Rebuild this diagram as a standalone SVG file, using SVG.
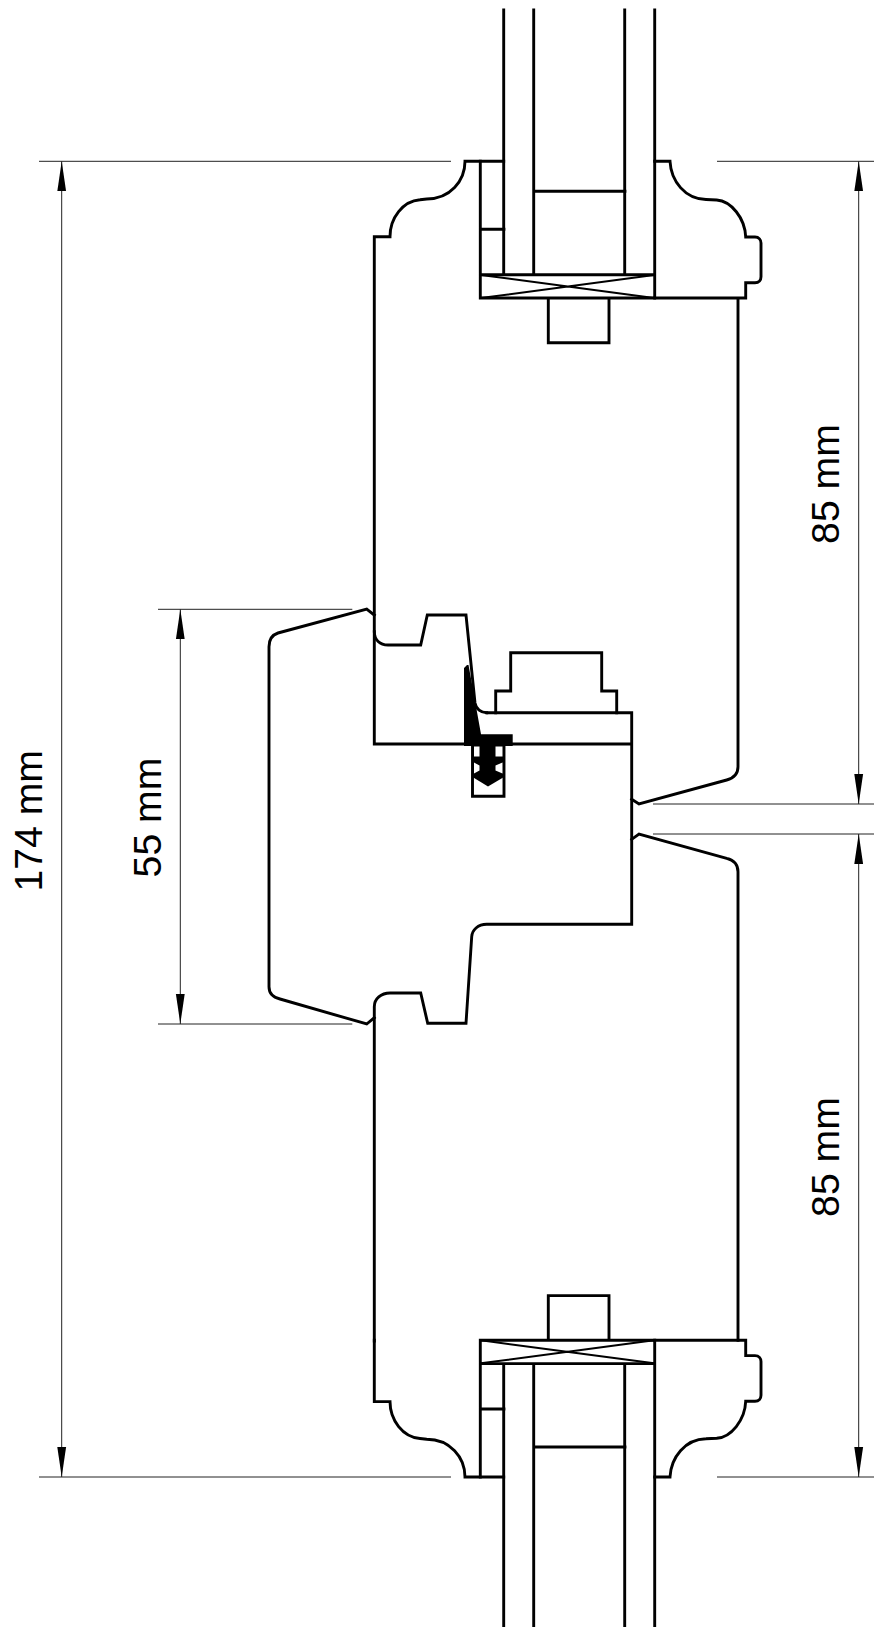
<svg xmlns="http://www.w3.org/2000/svg" width="874" height="1627" viewBox="0 0 874 1627">
<style>
.l{fill:none;stroke:#000;stroke-width:2.9;stroke-linejoin:miter;stroke-linecap:square}
.x{fill:none;stroke:#000;stroke-width:2}
.d{fill:none;stroke:#222;stroke-width:1}
.a{fill:none;stroke:#222;stroke-width:1;marker-start:url(#arr);marker-end:url(#arr)}
.t{font-family:"Liberation Sans",Arial,sans-serif;font-size:39.2px;fill:#000;text-anchor:middle}
</style>
<defs>
<marker id="arr" markerUnits="userSpaceOnUse" markerWidth="30" markerHeight="10" refX="30" refY="5" orient="auto-start-reverse"><path d="M0 .6L30 5L0 9.4Z" fill="#000"/></marker>
</defs>
<rect id="background" width="874" height="1627" fill="#fff"/>
<g id="top-sash-glazing">
<path class="l" d="M503.7 10V274.7M533.7 10V274.7M624.7 10V274.7M654.7 10V298M534 191.3H625M480.3 229.3H504M480.3 161.3V298M480.3 274.7H654.7M480.3 298H654.7M548.3 298V342.7H609V298"/>
<path class="x" d="M481 275L654 298M481 298L654 275"/>
</g>
<g id="top-sash-profile">
<path class="l" d="M503.7 161.3H465C465 181 450 199 426.7 199L420 199.8C403 201 390 218 390 236.7H374.3V631.7C374.3 640 380 645 388 645H420.7L427.3 615H466L475 703C476 709 481 712.7 486.7 712.7"/>
<path class="l" d="M654.7 161.3H670C671 181 685 199 706 199.5L716.7 200C731 201 745 218 745.7 237H755C759 237 761 240 761 243V276.7C761 280 759 282.7 755 282.7H745.7V298H654.7M738 298V766.7C738 773 734 778 726.7 780L639 804L631.7 799.3"/>
</g>
<g id="mullion">
<path class="l" d="M374.3 615L366.7 609L278 633C272 635 269 640 269 646.7V986.7C269 993 272 997 280 999L366.7 1024L374.3 1017.7"/>
<path class="l" d="M374.3 631.7V744H631.7M486.7 712.7H631.7V924.3H486.7C478 924.3 472 930 471.7 936.7L466 1023.3H427.7L420.7 993H390C381 993 374.3 999 374.3 1006.7V1341"/>
<path class="l" d="M495.7 712.7V691H510.7V652.7H601.7V691H616.7V712.7"/>
</g>
<g id="bottom-sash-lip">
<path class="l" d="M631.7 839.3L639 834L726.7 858.3C734 860 738 865 738 871.7V1340.3"/>
</g>
<g id="seal">
<path class="l" d="M472.5 745V796.3H504V745"/>
<path d="M464 668L467 665L468.5 665L475.5 703L477 712L481 734.3H512.7V746H464Z" fill="#000"/>
<path d="M472.5 777L488 786.5L504 777V745H472.5Z" fill="#000"/>
<path d="M474 746.5H479.5V756.5H474ZM495.5 746.5H502.5V756.5H495.5ZM474 762.5L479.5 765.5V770.5L474 773.5ZM502.5 762.5L495.5 765.5V770.5L502.5 773.5Z" fill="#fff"/>
</g>
<g id="bottom-sash-glazing" transform="translate(0 1638.3) scale(1 -1)">
<path class="l" d="M503.7 11V274.7M533.7 11V274.7M624.7 11V274.7M654.7 11V298M534 191.3H625M480.3 229.3H504M480.3 161.3V298M480.3 274.7H654.7M480.3 298H654.7M548.3 298V342.7H609V298"/>
<path class="x" d="M481 275L654 298M481 298L654 275"/>
</g>
<g id="bottom-sash-profile" transform="translate(0 1638.3) scale(1 -1)">
<path class="l" d="M503.7 161.3H465C465 181 450 199 426.7 199L420 199.8C403 201 390 218 390 236.7H374.3V298"/>
<path class="l" d="M654.7 161.3H670C671 181 685 199 706 199.5L716.7 200C731 201 745 218 745.7 237H755C759 237 761 240 761 243V276.7C761 280 759 282.7 755 282.7H745.7V298H654.7"/>
</g>
<g id="connectors">
<path class="d" d="M39 161.3H451M717 161.3H874M39 1477H451M717 1477H874M158 609.3H352.3M158 1024H352.3M653 804H874M653 834H874"/>
<path class="a" d="M61.7 161.3V1477"/>
<path class="a" d="M180.3 609.3V1024"/>
<path class="a" d="M858.7 161.3V804"/>
<path class="a" d="M858.7 834V1477"/>
</g>
<g id="labels">
<text class="t" transform="translate(42.3 820.8) rotate(-90)">174 mm</text>
<text class="t" transform="translate(161.3 817.5) rotate(-90)">55 mm</text>
<text class="t" transform="translate(839 484) rotate(-90)">85 mm</text>
<text class="t" transform="translate(839 1157) rotate(-90)">85 mm</text>
</g>
</svg>
